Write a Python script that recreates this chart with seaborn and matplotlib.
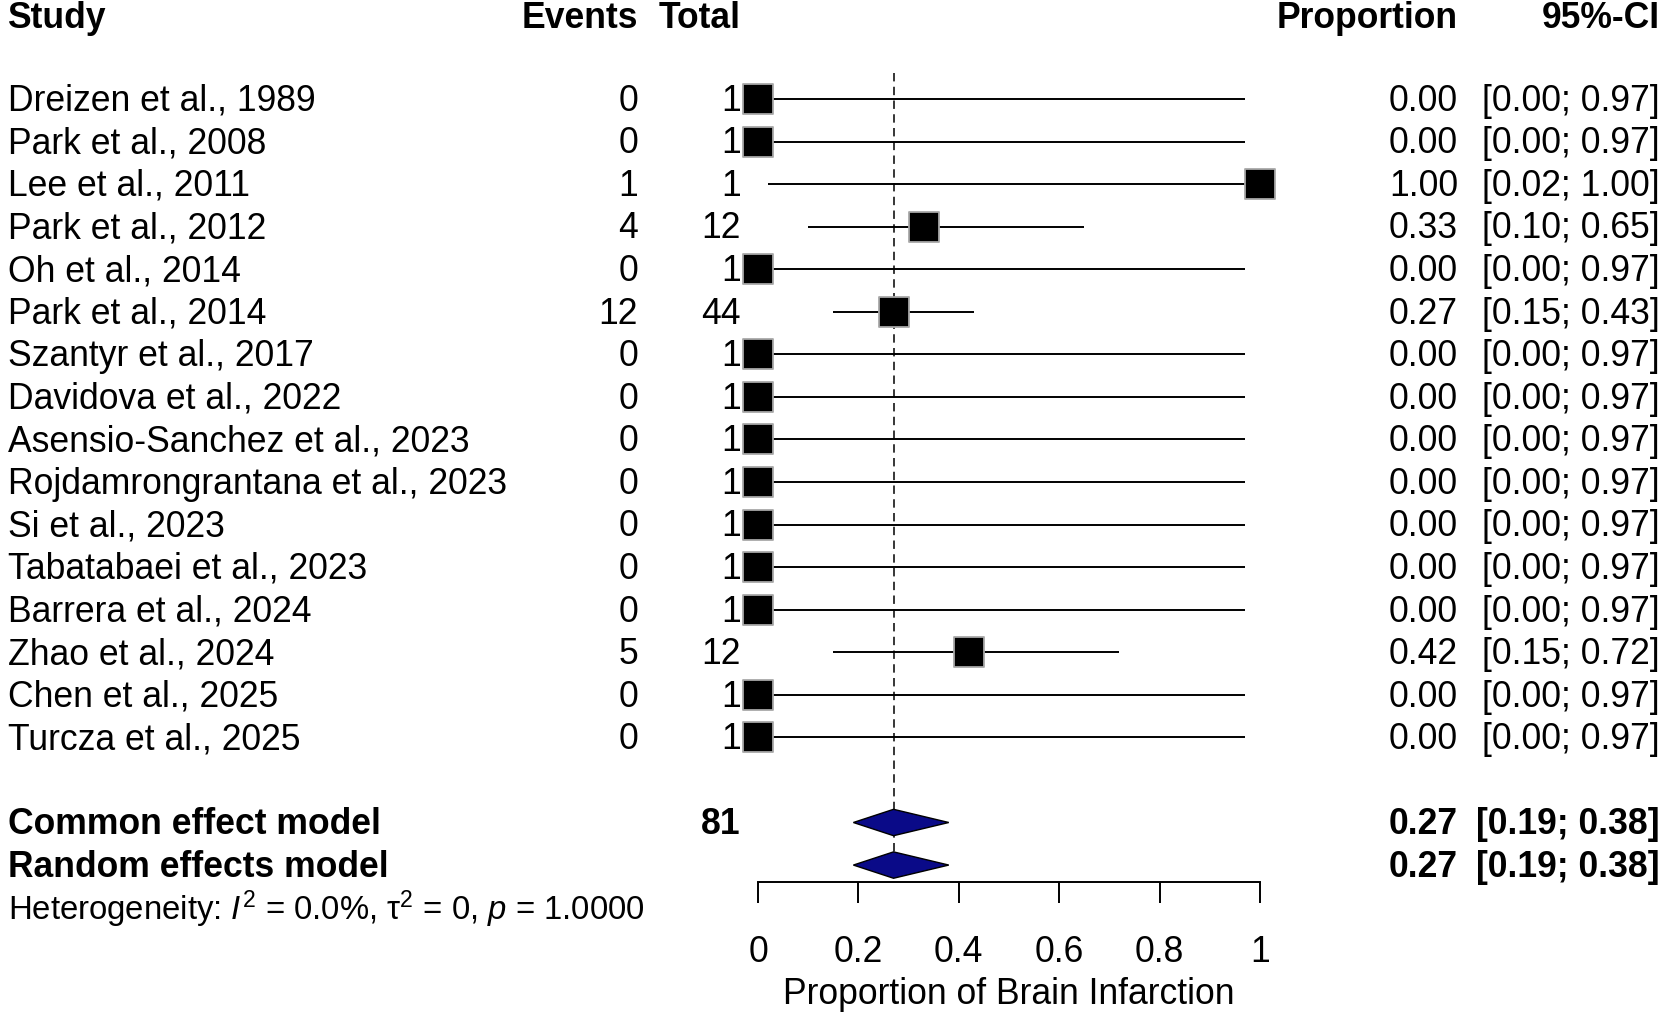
import matplotlib
matplotlib.use("Agg")
import matplotlib.pyplot as plt
import seaborn as sns
import pandas as pd

# study level data
studies = ["Dreizen et al., 1989", "Park et al., 2008", "Lee et al., 2011", "Park et al., 2012",
           "Oh et al., 2014", "Park et al., 2014", "Szantyr et al., 2017", "Davidova et al., 2022",
           "Asensio-Sanchez et al., 2023", "Rojdamrongrantana et al., 2023", "Si et al., 2023",
           "Tabatabaei et al., 2023", "Barrera et al., 2024", "Zhao et al., 2024",
           "Chen et al., 2025", "Turcza et al., 2025"]
events = [0, 0, 1, 4, 0, 12, 0, 0, 0, 0, 0, 0, 0, 5, 0, 0]
totals = [1, 1, 1, 12, 1, 44, 1, 1, 1, 1, 1, 1, 1, 12, 1, 1]
proportion = [0.00, 0.00, 1.00, 0.33, 0.00, 0.27, 0.00, 0.00, 0.00, 0.00, 0.00, 0.00, 0.00, 0.42, 0.00, 0.00]
ci_lower = [0.00, 0.00, 0.02, 0.10, 0.00, 0.15, 0.00, 0.00, 0.00, 0.00, 0.00, 0.00, 0.00, 0.15, 0.00, 0.00]
ci_upper = [0.97, 0.97, 1.00, 0.65, 0.97, 0.43, 0.97, 0.97, 0.97, 0.97, 0.97, 0.97, 0.97, 0.72, 0.97, 0.97]

# pooled estimates
models = ["Common effect model", "Random effects model"]
model_est = [0.27, 0.27]
model_lower = [0.19, 0.19]
model_upper = [0.38, 0.38]
total_n = 81
het_label = r"Heterogeneity: $I^2$ = 0.0%, $\mathrm{\tau}^2$ = 0, $p$ = 1.0000"

x_ticks = [0, 0.2, 0.4, 0.6, 0.8, 1]
x_tick_labels = ["0", "0.2", "0.4", "0.6", "0.8", "1"]
x_label = "Proportion of Brain Infarction"

sns.set_style("white")
plt.rcParams["font.family"] = ["Liberation Sans", "DejaVu Sans"]
plt.rcParams["mathtext.fontset"] = "custom"
plt.rcParams["mathtext.rm"] = "Liberation Sans"
plt.rcParams["mathtext.it"] = "Liberation Sans:italic"
plt.rcParams["mathtext.bf"] = "Liberation Sans:bold"
plt.rcParams["text.color"] = "black"
plt.rcParams["xtick.color"] = "black"
plt.rcParams["axes.labelcolor"] = "black"

fs = 25.6
dy = -0.04  # small lift so text sits on the CI line
df = pd.DataFrame({"study": studies, "events": events, "total": totals,
                   "prop": proportion, "lo": ci_lower, "hi": ci_upper})
df["row"] = range(len(df))
model_rows = [len(df) + 1, len(df) + 2]

fig = plt.figure(figsize=(16.65, 10.17), dpi=100)
ax = fig.add_axes([0, 0, 1, 1])

# confidence intervals and squares
ax.hlines(df["row"], df["lo"], df["hi"], color="black", lw=1.4, zorder=2)
sns.scatterplot(data=df, x="prop", y="row", marker="s", s=470, color="black",
                edgecolor="#a8a8a8", linewidth=1.3, legend=False, zorder=3, ax=ax)

# pooled diamonds
for r, est, lo, hi in zip(model_rows, model_est, model_lower, model_upper):
    ax.fill([lo, est, hi, est], [r, r - 0.31, r, r + 0.31], facecolor="#0a0a88",
            edgecolor="black", lw=1.0, zorder=3)

# reference line at pooled estimate
ax.vlines(model_est[0], -0.6, model_rows[1] + 0.28, color="black", lw=1.1,
          linestyles=(0, (5.5, 3.5)), zorder=1)

scale = 502
ax.set_xlim(-758 / scale, (1665 - 758) / scale)
ax.set_ylim(21.57, -2.326)

# x axis drawn like R meta
for s in ["top", "left", "right"]:
    ax.spines[s].set_visible(False)
ax.spines["bottom"].set_position(("data", 18.4))
ax.spines["bottom"].set_bounds(0, 1)
ax.spines["bottom"].set_linewidth(1.4)
ax.spines["bottom"].set_color("black")
ax.set_xticks(x_ticks)
ax.set_xticklabels(x_tick_labels, fontsize=fs)
ax.tick_params(axis="x", direction="out", length=15, width=1.4, pad=23, bottom=True, colors="black")
ax.set_yticks([])
ax.set_xlabel("")
ax.set_ylabel("")
ax.text(0.5, 20.95, x_label, ha="center", va="center_baseline", fontsize=fs)

# column positions in data units
x_study = (7.5 - 758) / scale
x_events = (638 - 758) / scale
x_total = (741 - 758) / scale
x_prop = (1458 - 758) / scale
x_ci = (1660 - 758) / scale

hdr = -1.98
ax.text(x_study, hdr, "Study", ha="left", va="center_baseline", fontsize=fs, weight="bold")
ax.text(x_events, hdr, "Events", ha="right", va="center_baseline", fontsize=fs, weight="bold")
ax.text(x_total, hdr, "Total", ha="right", va="center_baseline", fontsize=fs, weight="bold")
ax.text(x_prop, hdr, "Proportion", ha="right", va="center_baseline", fontsize=fs, weight="bold")
ax.text(x_ci, hdr, "95%-CI", ha="right", va="center_baseline", fontsize=fs, weight="bold")

for _, d in df.iterrows():
    r = d["row"] + dy
    ax.text(x_study, r, d["study"], ha="left", va="center_baseline", fontsize=fs)
    ax.text(x_events, r, f"{d['events']}", ha="right", va="center_baseline", fontsize=fs)
    ax.text(x_total, r, f"{d['total']}", ha="right", va="center_baseline", fontsize=fs)
    ax.text(x_prop, r, f"{d['prop']:.2f}", ha="right", va="center_baseline", fontsize=fs)
    ax.text(x_ci, r, f"[{d['lo']:.2f}; {d['hi']:.2f}]", ha="right", va="center_baseline", fontsize=fs)

for i, (r, name) in enumerate(zip(model_rows, models)):
    r = r + dy
    ax.text(x_study, r, name, ha="left", va="center_baseline", fontsize=fs, weight="bold")
    if i == 0:
        ax.text(x_total, r, f"{total_n}", ha="right", va="center_baseline", fontsize=fs, weight="bold")
    ax.text(x_prop, r, f"{model_est[i]:.2f}", ha="right", va="center_baseline", fontsize=fs, weight="bold")
    ax.text(x_ci, r, f"[{model_lower[i]:.2f}; {model_upper[i]:.2f}]", ha="right",
            va="center_baseline", fontsize=fs, weight="bold")

ax.text(x_study, 18.93, het_label, ha="left", va="center_baseline", fontsize=23.7)

fig.savefig("out.png", dpi=100)
